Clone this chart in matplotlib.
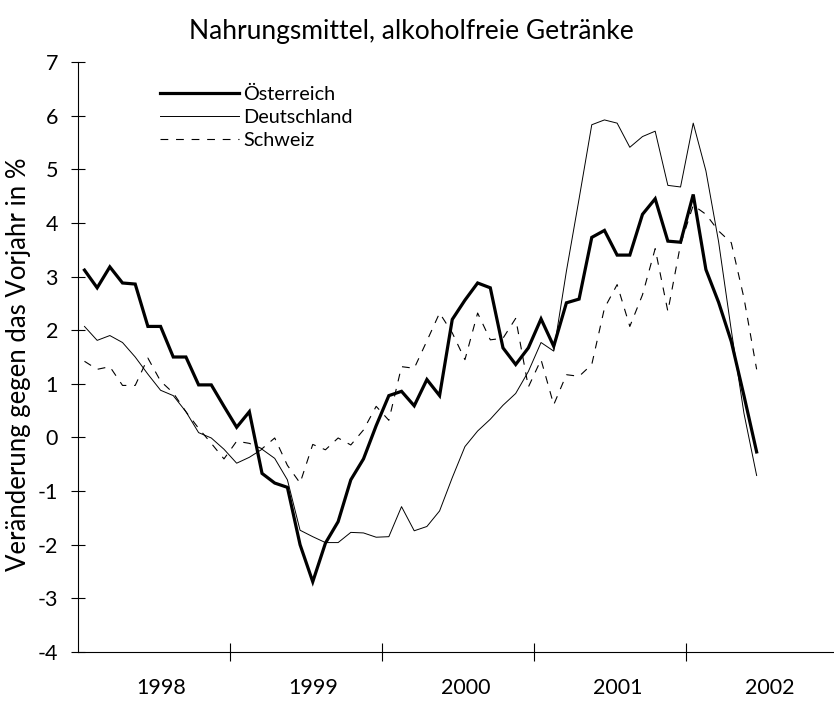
import numpy as np
import matplotlib
matplotlib.use("Agg")
import matplotlib.pyplot as plt

plt.rcParams['font.family'] = ['Lato', 'DejaVu Sans']

title = "Nahrungsmittel, alkoholfreie Getränke"
ylabel = "Veränderung gegen das Vorjahr in %"
years = ["1998", "1999", "2000", "2001", "2002"]
series_names = ["Österreich", "Deutschland", "Schweiz"]

# Monthly values Jan 1998 - Jun 2002
oesterreich = [3.12, 2.79, 3.18, 2.88, 2.86, 2.07, 2.07, 1.50, 1.50, 0.98, 0.98, 0.58,
               0.19, 0.48, -0.67, -0.85, -0.93, -2.00, -2.69, -1.97, -1.57, -0.79, -0.40, 0.22,
               0.78, 0.86, 0.59, 1.08, 0.78, 2.20, 2.56, 2.88, 2.79, 1.67, 1.36, 1.67,
               2.21, 1.70, 2.51, 2.58, 3.73, 3.86, 3.40, 3.40, 4.16, 4.45, 3.66, 3.64,
               4.53, 3.13, 2.52, 1.79, 0.78, -0.27]
deutschland = [2.07, 1.81, 1.90, 1.77, 1.50, 1.18, 0.88, 0.78, 0.48, 0.09, -0.01, -0.22,
               -0.48, -0.37, -0.22, -0.39, -0.79, -1.73, -1.85, -1.96, -1.96, -1.77, -1.78, -1.86,
               -1.85, -1.29, -1.74, -1.66, -1.37, -0.75, -0.17, 0.12, 0.34, 0.60, 0.82, 1.23,
               1.77, 1.61, 3.10, 4.45, 5.83, 5.92, 5.86, 5.41, 5.61, 5.71, 4.70, 4.67,
               5.86, 4.97, 3.65, 2.00, 0.45, -0.71]
schweiz = [1.42, 1.27, 1.32, 0.97, 0.97, 1.48, 1.05, 0.83, 0.48, 0.17, -0.11, -0.40,
           -0.07, -0.11, -0.21, -0.01, -0.52, -0.85, -0.13, -0.23, -0.01, -0.14, 0.14, 0.58,
           0.32, 1.32, 1.29, 1.80, 2.32, 1.95, 1.45, 2.32, 1.82, 1.85, 2.22, 0.94,
           1.45, 0.61, 1.17, 1.14, 1.36, 2.41, 2.85, 2.07, 2.66, 3.52, 2.35, 3.60,
           4.33, 4.16, 3.85, 3.63, 2.60, 1.27]

n = len(oesterreich)
x = np.arange(n) + 0.55

fig = plt.figure(figsize=(8.34, 7.02), dpi=100)
ax = fig.add_axes([77.5 / 834, 50 / 702, 1 - 77.5 / 834, 590 / 702])

ax.plot(x, oesterreich, color='black', lw=2.3, solid_joinstyle='miter', label=series_names[0])
ax.plot(x, deutschland, color='black', lw=0.7, label=series_names[1])
ax.plot(x, schweiz, color='black', lw=0.8, ls=(0, (7, 7)), label=series_names[2])

ax.set_xlim(0, 59.65)
ax.set_ylim(-4, 7)
for s in ['top', 'right']:
    ax.spines[s].set_visible(False)
for s in ['left', 'bottom']:
    ax.spines[s].set_linewidth(0.8)

ax.set_yticks(range(-4, 8))
ax.set_yticklabels([str(v) for v in range(-4, 8)])
ax.tick_params(axis='y', direction='inout', length=10, width=0.8, labelsize=15.5, pad=9)

ax.set_xticks([12, 24, 36, 48])
ax.set_xticklabels([])
ax.tick_params(axis='x', which='major', direction='inout', length=13, width=0.8)
ax.set_xticks([12 * k + 6.6 for k in range(len(years))], minor=True)
ax.set_xticklabels(years, minor=True)
ax.tick_params(axis='x', which='minor', length=0, labelsize=15.5, pad=19)

ax.set_ylabel(ylabel, fontsize=18.5)
ax.yaxis.set_label_coords(-0.061, 0.488)

fig.text(0.493, 1 - 31 / 702, title, ha='center', va='center', fontsize=19)

leg = ax.legend(loc='upper left', bbox_to_anchor=(82 / 756, 1 - 24 / 590), frameon=False,
                fontsize=14.3, handlelength=4.0, handletextpad=0.2, labelspacing=0.3,
                borderaxespad=0, borderpad=0)

fig.savefig("out.png", dpi=100)
